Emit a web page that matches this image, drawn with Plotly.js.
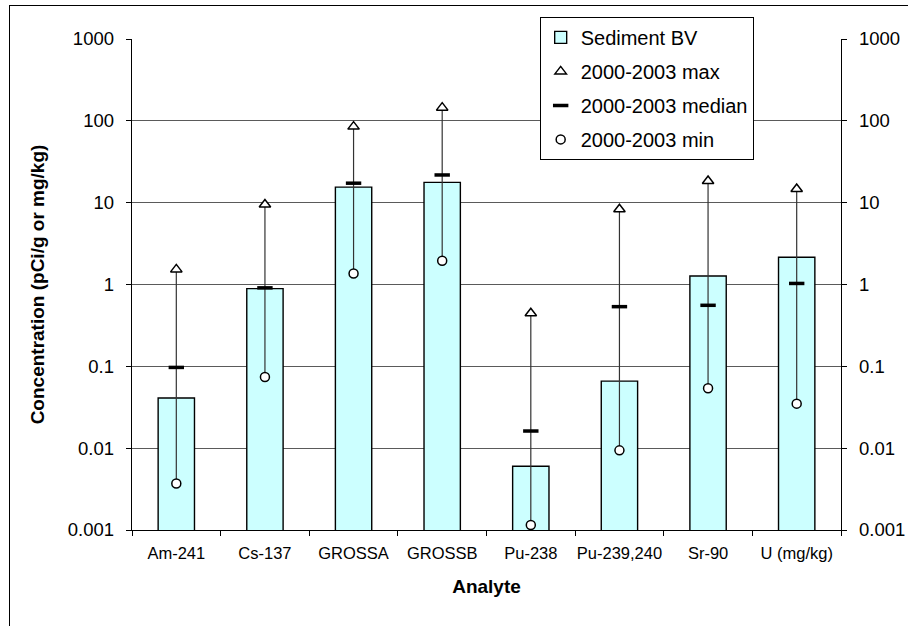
<!DOCTYPE html>
<html>
<head>
<meta charset="utf-8">
<script src="https://cdn.plot.ly/plotly-3.0.1.min.js"></script>
<style>
html,body{margin:0;padding:0;background:#fff;overflow:hidden;}
#frame{position:absolute;left:9px;top:5px;width:1000px;height:1000px;border:1px solid #000;pointer-events:none;z-index:5;}
#chart{position:absolute;left:0;top:0;width:908px;height:626px;}
</style>
</head>
<body>
<div id="chart"></div>
<div id="frame"></div>
<script>
const categories = ["Am-241","Cs-137","GROSSA","GROSSB","Pu-238","Pu-239,240","Sr-90","U (mg/kg)"];
const sedimentBV = [0.041, 0.89, 15.5, 17.7, 0.006, 0.066, 1.27, 2.15];
const maxVals    = [1.53, 9.5, 85, 145, 0.445, 8.3, 18.4, 14.7];
const medianVals = [0.097, 0.91, 17.3, 21.8, 0.0162, 0.536, 0.557, 1.03];
const minVals    = [0.0037, 0.074, 1.36, 1.95, 0.00115, 0.0094, 0.054, 0.035];
const yTickVals  = [0.001, 0.01, 0.1, 1, 10, 100, 1000];
const yTickText  = ["0.001","0.01","0.1","1","10","100","1000"];

const wx = [], wy = [];
categories.forEach((c,i)=>{ wx.push(c,c,null); wy.push(minVals[i], maxVals[i], null); });

const FONT = "Arial, 'Liberation Sans', sans-serif";

const traces = [
  {type:'bar', x:categories, y:sedimentBV, name:'Sediment BV', legendgroup:'a',
   marker:{color:'#CCFFFF', line:{color:'#000', width:1.4}}},
  {type:'scatter', mode:'lines', x:wx, y:wy, yaxis:'y2', showlegend:false, hoverinfo:'skip',
   line:{color:'#333', width:1.2}},
  {type:'scatter', mode:'markers', x:categories, y:maxVals, yaxis:'y2', name:'2000-2003 max', legendgroup:'b',
   marker:{symbol:'triangle-up', size:10, color:'#fff', line:{color:'#000', width:1.5}}},
  {type:'scatter', mode:'markers', x:categories, y:medianVals, yaxis:'y2', name:'2000-2003 median', legendgroup:'c',
   marker:{symbol:'line-ew', size:11, color:'#000', line:{color:'#000', width:3.5}}},
  {type:'scatter', mode:'markers', x:categories, y:minVals, yaxis:'y2', name:'2000-2003 min', legendgroup:'d',
   marker:{symbol:'circle', size:9, color:'#fff', line:{color:'#000', width:1.5}}}
];

const yCommon = {
  type:'log', range:[-3,3], tickvals:yTickVals, ticktext:yTickText,
  ticks:'outside', ticklen:5, tickcolor:'#000', tickwidth:1,
  showline:true, linecolor:'#000', linewidth:1.3, ticklabelstandoff:8,
  tickfont:{family:FONT, size:18.5, color:'#000'}, zeroline:false, fixedrange:true
};

const layout = {
  width:908, height:626,
  margin:{l:132, r:67, t:39, b:96},
  paper_bgcolor:'rgba(0,0,0,0)', plot_bgcolor:'#fff',
  font:{family:FONT, color:'#000'},
  bargap:0.59,
  showlegend:true,
  legend:{x:0.575, y:1.045, xanchor:'left', yanchor:'top', bgcolor:'#fff',
          bordercolor:'#000', borderwidth:1, font:{family:FONT, size:20, color:'#000'},
          traceorder:'grouped', tracegroupgap:5, itemwidth:30},
  xaxis:{type:'category', showline:true, linecolor:'#000', linewidth:1.3,
         ticks:'outside', tickson:'boundaries', ticklen:5, tickcolor:'#000', tickangle:0,
         ticklabelstandoff:8,
         tickfont:{family:FONT, size:16.5, color:'#000'}, showgrid:false,
         title:{text:'<b>Analyte</b>', font:{family:FONT, size:19, color:'#000'}, standoff:18},
         fixedrange:true},
  yaxis:Object.assign({}, yCommon, {
         showgrid:true, gridcolor:'#5a5a5a', gridwidth:1,
         title:{text:'<b>Concentration (pCi/g or mg/kg)</b>', font:{family:FONT, size:19, color:'#000'}, standoff:18}}),
  yaxis2:Object.assign({}, yCommon, {overlaying:'y', side:'right', showgrid:false})
};

Plotly.newPlot('chart', traces, layout, {displayModeBar:false, staticPlot:true});
</script>
</body>
</html>
